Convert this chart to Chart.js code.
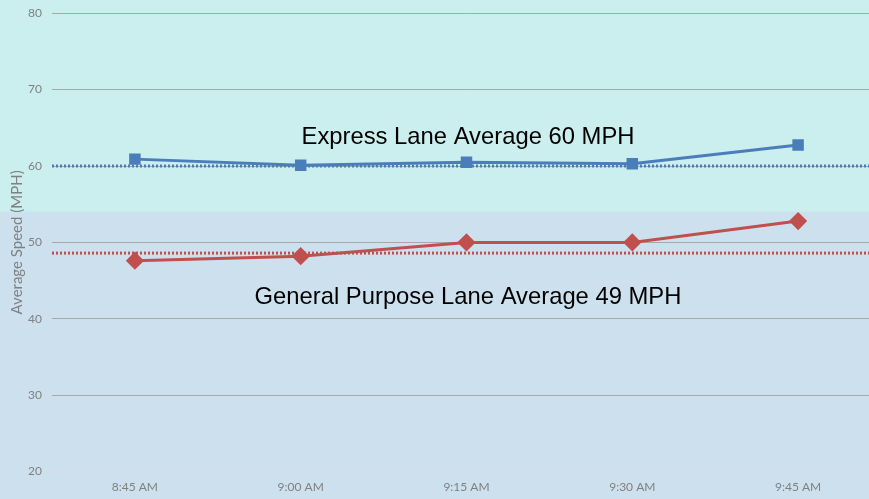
<!DOCTYPE html>
<html><head><meta charset="utf-8">
<script src="https://cdn.jsdelivr.net/npm/chart.js@4.4.0/dist/chart.umd.min.js"></script>
<style>html,body{margin:0;padding:0;overflow:hidden;background:#cde0ee;width:869px;height:499px;}#wrap{width:869px;height:499px;overflow:hidden;position:relative;}canvas{display:block;position:absolute;left:0;top:-4px;}</style>
</head><body><div id="wrap"><canvas id="c" width="891" height="510"></canvas></div>
<script>
const categories = ['8:45 AM','9:00 AM','9:15 AM','9:30 AM','9:45 AM'];
const expressSpeeds = [60.9, 60.1, 60.5, 60.3, 62.75];
const generalSpeeds = [47.6, 48.2, 50.0, 50.0, 52.8];
const expressAverage = 60;
const generalAverage = 48.6;
const bandSplit = 54;
const annotations = [
  {text:'Express Lane Average 60 MPH', value: 63.8},
  {text:'General Purpose Lane Average 49 MPH', value: 42.8}
];

const bgPlugin = {
  id:'bg',
  beforeDraw(chart){
    const {ctx, scales:{y}} = chart;
    const split = y.getPixelForValue(bandSplit);
    ctx.save();
    ctx.fillStyle = '#cbeeee';
    ctx.fillRect(0,0,chart.width,split);
    ctx.fillStyle = '#cde0ee';
    ctx.fillRect(0,split,chart.width,chart.height-split);
    ctx.restore();
  },
  beforeDatasetsDraw(chart){
    const {ctx, chartArea:a, scales:{y}} = chart;
    ctx.save();
    [[expressAverage,'#4a7ebb'],[generalAverage,'#c0504d']].forEach(([v,c])=>{
      const py = y.getPixelForValue(v);
      ctx.strokeStyle = c; ctx.lineWidth = 3; ctx.setLineDash([2,2]);
      ctx.beginPath(); ctx.moveTo(a.left, py); ctx.lineTo(chart.width, py); ctx.stroke();
    });
    ctx.setLineDash([]);
    ctx.fillStyle = '#000'; ctx.font = '23.8px "Liberation Sans", Arial, sans-serif';
    ctx.textAlign = 'center'; ctx.textBaseline = 'middle';
    annotations.forEach(an=>{
      ctx.fillText(an.text, 468, y.getPixelForValue(an.value));
    });
    ctx.restore();
  }
};

new Chart(document.getElementById('c'), {
  type:'line',
  data:{labels:categories, datasets:[
    {label:'Express', data:expressSpeeds, borderColor:'#4a7ebb', backgroundColor:'#4a7ebb', borderWidth:3,
     pointStyle:'rect', pointRadius:6, pointHoverRadius:6, tension:0},
    {label:'General', data:generalSpeeds, borderColor:'#c0504d', backgroundColor:'#c0504d', borderWidth:3,
     pointStyle:'rectRot', pointRadius:7, pointHoverRadius:7, tension:0}
  ]},
  options:{
    responsive:false, maintainAspectRatio:false, animation:false, devicePixelRatio:1,
    layout:{padding:{top:0, left:2, right:0, bottom:4}},
    plugins:{legend:{display:false}, tooltip:{enabled:false}},
    scales:{
      x:{offset:true, grid:{display:false, drawTicks:false}, border:{display:false},
         ticks:{color:'#808080', font:{family:'Lato', size:12}, padding:8}},
      y:{min:20, max:80, ticks:{stepSize:10, color:'#808080', font:{family:'Lato', size:12}, padding:10},
         grid:{color:(c)=> c.tick.value===20 ? '#dcdcdc' : '#a8a8a8', lineWidth:1, drawTicks:false},
         border:{display:false},
         afterFit:(s)=>{ s.width = 50; },
         title:{display:true, text:'Average Speed (MPH)', color:'#808080', font:{family:'Lato', size:15}, padding:{top:6,bottom:0}}}
    }
  },
  plugins:[bgPlugin]
});
</script></body></html>
